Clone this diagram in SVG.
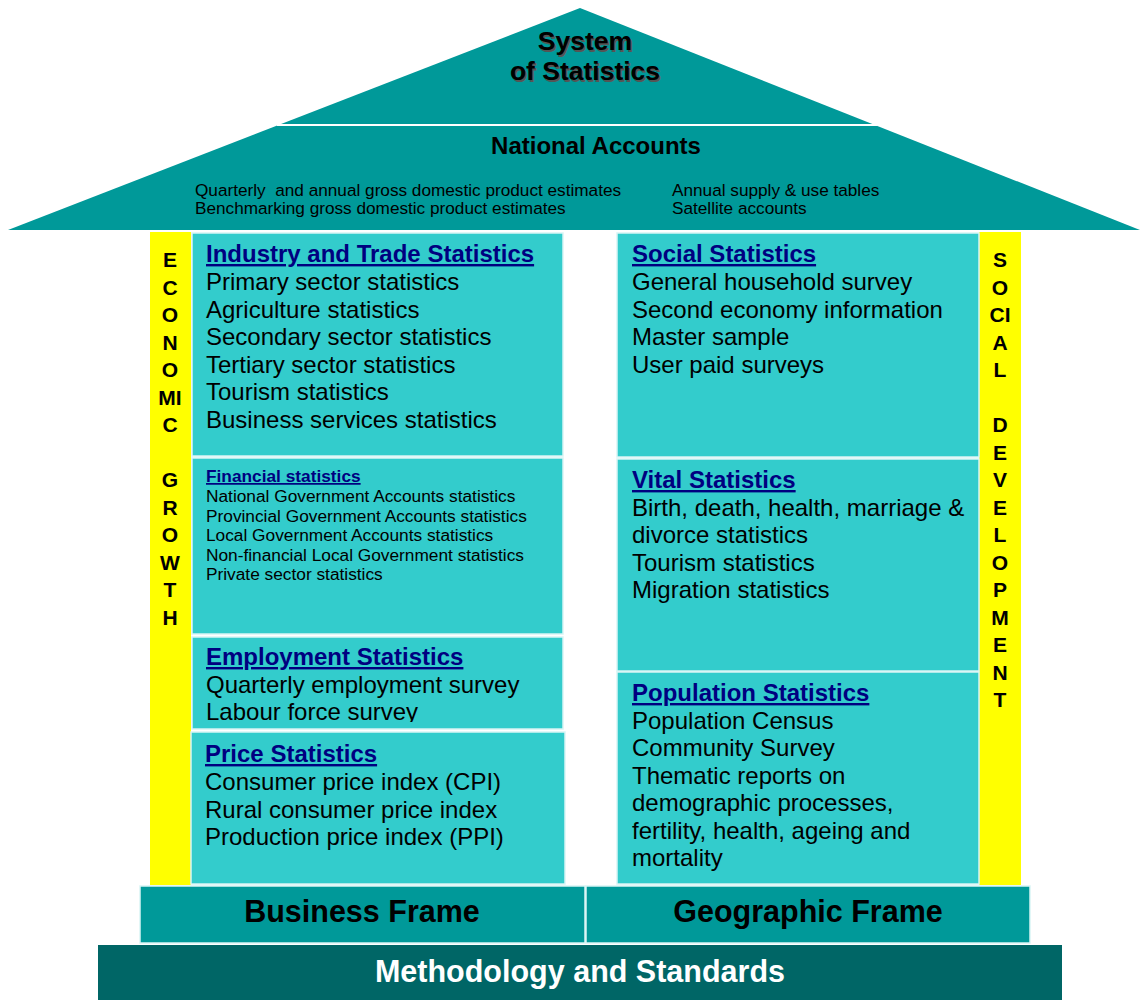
<svg xmlns="http://www.w3.org/2000/svg" width="1140" height="1000" viewBox="0 0 1140 1000">
<style>
text{font-family:"Liberation Sans",Arial,sans-serif}
.roof{fill:#009999}
.box{fill:#33CCCC;stroke:#D9F5F5;stroke-width:1.5}
.frame{fill:#009999;stroke:#D9F5F5;stroke-width:1.5}
.pillar{fill:#FFFF00}
.h{font-size:24px;font-weight:bold;fill:#000080;text-decoration:underline}
.i{font-size:24px;fill:#000}
.hs{font-size:17.3px;font-weight:bold;fill:#000080;text-decoration:underline}
.is{font-size:17.3px;fill:#000}
.v{font-size:21px;font-weight:bold;fill:#000;text-anchor:middle}
.ft{font-size:30.5px;font-weight:bold;text-anchor:middle}
.rt{font-size:17.2px;fill:#000;white-space:pre}
</style>
<defs>
<clipPath id="empClip"><rect x="192" y="637" width="371" height="85"/></clipPath>
</defs>
<rect width="1140" height="1000" fill="#fff"/>
<g id="roof">
<polygon class="roof" points="580,8 8,230 1140,230"/>
<line x1="277" y1="125" x2="877" y2="125" stroke="#fff" stroke-width="2"/>
<g font-size="26.5" font-weight="bold" text-anchor="middle">
<text x="586.5" y="51.5" fill="#555">System</text>
<text x="586.5" y="81.5" fill="#555">of Statistics</text>
<text x="585" y="50" fill="#000">System</text>
<text x="585" y="80" fill="#000">of Statistics</text>
</g>
<text x="596" y="154" font-size="24" font-weight="bold" text-anchor="middle">National Accounts</text>
<text class="rt" x="195" y="196" xml:space="preserve">Quarterly  and annual gross domestic product estimates</text>
<text class="rt" x="195" y="214">Benchmarking gross domestic product estimates</text>
<text class="rt" x="672" y="196">Annual supply &amp; use tables</text>
<text class="rt" x="672" y="214">Satellite accounts</text>
</g>
<g id="economic-growth">
<rect class="pillar" x="150" y="232" width="41" height="653"/>
<text class="v" x="170" y="267">E</text>
<text class="v" x="170" y="294.5">C</text>
<text class="v" x="170" y="322">O</text>
<text class="v" x="170" y="349.5">N</text>
<text class="v" x="170" y="377">O</text>
<text class="v" x="170" y="404.5">MI</text>
<text class="v" x="170" y="432">C</text>
<text class="v" x="170" y="487">G</text>
<text class="v" x="170" y="514.5">R</text>
<text class="v" x="170" y="542">O</text>
<text class="v" x="170" y="569.5">W</text>
<text class="v" x="170" y="597">T</text>
<text class="v" x="170" y="624.5">H</text>
</g>
<g id="social-development">
<rect class="pillar" x="979" y="232" width="42" height="653"/>
<text class="v" x="1000" y="267">S</text>
<text class="v" x="1000" y="294.5">O</text>
<text class="v" x="1000" y="322">CI</text>
<text class="v" x="1000" y="349.5">A</text>
<text class="v" x="1000" y="377">L</text>
<text class="v" x="1000" y="432">D</text>
<text class="v" x="1000" y="459.5">E</text>
<text class="v" x="1000" y="487">V</text>
<text class="v" x="1000" y="514.5">E</text>
<text class="v" x="1000" y="542">L</text>
<text class="v" x="1000" y="569.5">O</text>
<text class="v" x="1000" y="597">P</text>
<text class="v" x="1000" y="624.5">M</text>
<text class="v" x="1000" y="652">E</text>
<text class="v" x="1000" y="679.5">N</text>
<text class="v" x="1000" y="707">T</text>
</g>
<g id="industry-trade">
<rect class="box" x="192" y="233" width="371" height="223"/>
<text class="h" x="206" y="262">Industry and Trade Statistics</text>
<text class="i" x="206" y="290">Primary sector statistics</text>
<text class="i" x="206" y="317.5">Agriculture statistics</text>
<text class="i" x="206" y="345">Secondary sector statistics</text>
<text class="i" x="206" y="372.5">Tertiary sector statistics</text>
<text class="i" x="206" y="400">Tourism statistics</text>
<text class="i" x="206" y="427.5">Business services statistics</text>
</g>
<g id="financial">
<rect class="box" x="192" y="458" width="371" height="176"/>
<text class="hs" x="206" y="482">Financial statistics</text>
<text class="is" x="206" y="502">National Government Accounts statistics</text>
<text class="is" x="206" y="521.5">Provincial Government Accounts statistics</text>
<text class="is" x="206" y="541">Local Government Accounts statistics</text>
<text class="is" x="206" y="560.5">Non-financial Local Government statistics</text>
<text class="is" x="206" y="580">Private sector statistics</text>
</g>
<g id="employment">
<rect class="box" x="192" y="637" width="371" height="92"/>
<g clip-path="url(#empClip)">
<text class="h" x="206" y="665">Employment Statistics</text>
<text class="i" x="206" y="692.5">Quarterly employment survey</text>
<text class="i" x="206" y="720">Labour force survey</text>
</g>
</g>
<g id="price">
<rect class="box" x="191" y="732" width="374" height="152"/>
<text class="h" x="205" y="762">Price Statistics</text>
<text class="i" x="205" y="790">Consumer price index (CPI)</text>
<text class="i" x="205" y="817.5">Rural consumer price index</text>
<text class="i" x="205" y="845">Production price index (PPI)</text>
</g>
<g id="social">
<rect class="box" x="617" y="233" width="362" height="224"/>
<text class="h" x="632" y="262">Social Statistics</text>
<text class="i" x="632" y="290">General household survey</text>
<text class="i" x="632" y="317.5">Second economy information</text>
<text class="i" x="632" y="345">Master sample</text>
<text class="i" x="632" y="372.5">User paid surveys</text>
</g>
<g id="vital">
<rect class="box" x="617" y="459" width="362" height="212"/>
<text class="h" x="632" y="488">Vital Statistics</text>
<text class="i" x="632" y="515.5">Birth, death, health, marriage &amp;</text>
<text class="i" x="632" y="543">divorce statistics</text>
<text class="i" x="632" y="570.5">Tourism statistics</text>
<text class="i" x="632" y="598">Migration statistics</text>
</g>
<g id="population">
<rect class="box" x="617" y="672" width="362" height="212"/>
<text class="h" x="632" y="701">Population Statistics</text>
<text class="i" x="632" y="728.5">Population Census</text>
<text class="i" x="632" y="756">Community Survey</text>
<text class="i" x="632" y="783.5">Thematic reports on</text>
<text class="i" x="632" y="811">demographic processes,</text>
<text class="i" x="632" y="838.5">fertility, health, ageing and</text>
<text class="i" x="632" y="866">mortality</text>
</g>
<g id="business-frame">
<rect class="frame" x="140" y="886" width="445" height="57"/>
<text class="ft" x="362" y="922" fill="#000">Business Frame</text>
</g>
<g id="geographic-frame">
<rect class="frame" x="586" y="886" width="444" height="57"/>
<text class="ft" x="808" y="922" fill="#000">Geographic Frame</text>
</g>
<g id="methodology">
<rect x="98" y="945" width="964" height="55" fill="#006666"/>
<text class="ft" x="580" y="982" fill="#fff">Methodology and Standards</text>
</g>
<g id="connectors"/>
</svg>
